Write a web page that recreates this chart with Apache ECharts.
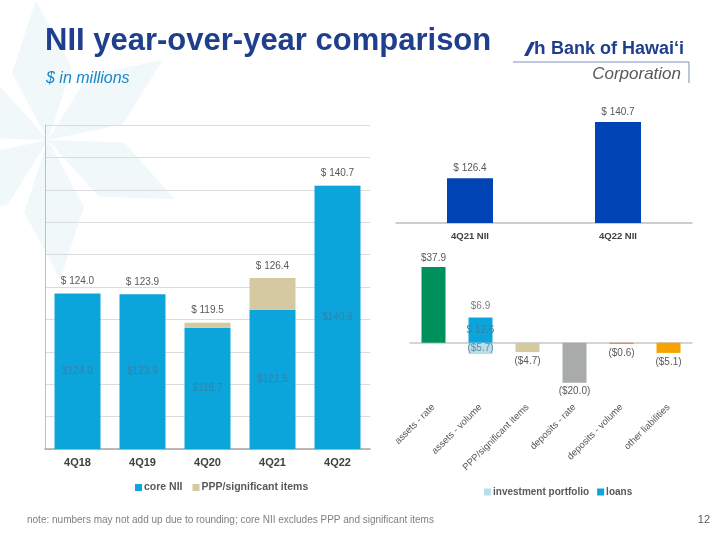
<!DOCTYPE html>
<html><head><meta charset="utf-8">
<script src="https://cdn.jsdelivr.net/npm/echarts@6/dist/echarts.min.js"></script>
<style>html,body{margin:0;padding:0;background:#fff}#c{width:720px;height:540px}</style>
</head><body><div id="c"></div>
<script>
// ---- data ----
const quarters = ['4Q18','4Q19','4Q20','4Q21','4Q22'];
const coreNII = [124.0,123.9,118.7,121.5,140.6];
const pppItems = [0,0,0.8,4.9,0.1];
const totalNII = [124.0,123.9,119.5,126.4,140.7];

const compareCats = ['4Q21 NII','4Q22 NII'];
const compareVals = [126.4,140.7];

const driverCats = ['assets - rate','assets - volume','PPP/significant items','deposits - rate','deposits - volume','other liabilities'];
const driverNet = [37.9,6.9,-4.7,-20.0,-0.6,-5.1];
const driverMain = [37.9,null,-4.7,-20.0,-0.6,-5.1];
const investmentPortfolio = [null,-5.7,null,null,null,null];
const loans = [null,12.6,null,null,null,null];
const driverColors = ['#00905c','#0ba5dc','#d5c9a1','#a9abab','#e8825c','#f6a300'];

// ---- styles ----
const FONT = '"Liberation Sans", Arial, sans-serif';
const GREY = '#595959';
const CYAN = '#0ba5dc';
const TAN = '#d5c9a1';
const fmtTotal = v => '$ ' + v.toFixed(1);
const fmtIn = v => '$' + v.toFixed(1);
const fmtSigned = v => v < 0 ? '($' + Math.abs(v).toFixed(1) + ')' : '$' + v.toFixed(1);

// background star (decoration)
const starCenter = [48, 140];
const starArms = [-95, -35, 25, 85, 145, 205].map(a => {
  const r = a * Math.PI / 180, L = 140, W = 30, m = 0.5;
  const dx = Math.cos(r), dy = Math.sin(r), px = -dy, py = dx;
  const [cx, cy] = starCenter;
  return {
    type: 'polygon', z: -10, silent: true,
    shape: { points: [
      [cx, cy],
      [cx + dx*L*m + px*W, cy + dy*L*m + py*W],
      [cx + dx*L, cy + dy*L],
      [cx + dx*L*m - px*W, cy + dy*L*m - py*W]
    ]},
    style: { fill: '#f1f8fa' }
  };
});

const chart = echarts.init(document.getElementById('c'));
chart.setOption({
  animation: false,
  backgroundColor: '#ffffff',
  textStyle: { fontFamily: FONT },
  graphic: starArms.concat([
    { type: 'text', x: 45, y: 41, style: { text: 'NII year-over-year comparison', font: 'bold 31px ' + FONT, fill: '#1f3f8e', verticalAlign: 'middle', textVerticalAlign: 'middle' } },
    { type: 'text', x: 46, y: 79, style: { text: '$ in millions', font: 'italic 16px ' + FONT, fill: '#1a86c8', verticalAlign: 'middle', textVerticalAlign: 'middle' } },
    // logo
    { type: 'polygon', shape: { points: [[524,56],[531,42],[535,42],[528,56]] }, style: { fill: '#1f3f8e' } },
    { type: 'text', x: 534, y: 49, style: { text: 'h', font: 'bold 19px ' + FONT, fill: '#1f3f8e', verticalAlign: 'middle', textVerticalAlign: 'middle' } },
    { type: 'text', x: 551, y: 49, style: { text: 'Bank of Hawaiʻi', font: 'bold 18px ' + FONT, fill: '#1f3f8e', verticalAlign: 'middle', textVerticalAlign: 'middle' } },
    { type: 'line', shape: { x1: 513, y1: 62, x2: 689, y2: 62 }, style: { stroke: '#7f8fba', lineWidth: 1 } },
    { type: 'line', shape: { x1: 689, y1: 62, x2: 689, y2: 83 }, style: { stroke: '#7f8fba', lineWidth: 1 } },
    { type: 'text', x: 681, y: 74, style: { text: 'Corporation', font: 'italic 17px "Liberation Sans Narrow", ' + FONT, fill: '#595959', align: 'right', textAlign: 'right', verticalAlign: 'middle', textVerticalAlign: 'middle' } },
    // footer
    { type: 'text', x: 27, y: 520, style: { text: 'note: numbers may not add up due to rounding; core NII excludes PPP and significant items', font: '10px ' + FONT, fill: '#808080', verticalAlign: 'middle', textVerticalAlign: 'middle' } },
    { type: 'text', x: 710, y: 520, style: { text: '12', font: '11px ' + FONT, fill: GREY, align: 'right', textAlign: 'right', verticalAlign: 'middle', textVerticalAlign: 'middle' } }
  ]),
  legend: [
    { data: ['core NII', 'PPP/significant items'], left: 130, top: 477, itemWidth: 7, itemHeight: 7, itemGap: 10,
      icon: 'rect', textStyle: { color: GREY, fontSize: 10.5, fontWeight: 'bold', padding: [0,0,0,-3] } },
    { data: ['investment portfolio', 'loans'], left: 479, top: 482, itemWidth: 7, itemHeight: 7, itemGap: 8,
      icon: 'rect', textStyle: { color: GREY, fontSize: 10, fontWeight: 'bold', padding: [0,0,0,-3] } }
  ],
  grid: [
    { left: 45, top: 125, width: 325, height: 324 },
    { left: 396, top: 105, width: 296, height: 118 },
    { left: 410, top: 262.7, width: 282, height: 140 }
  ],
  xAxis: [
    { gridIndex: 0, type: 'category', data: quarters,
      axisLine: { lineStyle: { color: '#a6a6a6', width: 1.5 } }, axisTick: { show: false },
      axisLabel: { color: '#404040', fontSize: 11, fontWeight: 'bold', margin: 8 } },
    { gridIndex: 1, type: 'category', data: compareCats,
      axisLine: { lineStyle: { color: '#bfbfbf', width: 1.5 } }, axisTick: { show: false },
      axisLabel: { color: '#404040', fontSize: 9.5, fontWeight: 'bold', margin: 8 } },
    { gridIndex: 2, type: 'category', data: driverCats,
      axisLine: { onZero: true, lineStyle: { color: '#c8c8c8', width: 1.5 } }, axisTick: { show: false },
      axisLabel: { show: false } },
    { gridIndex: 2, type: 'category', data: driverCats, position: 'bottom',
      axisLine: { show: false, onZero: false }, axisTick: { show: false },
      axisLabel: { color: GREY, fontSize: 9.5, rotate: 45, margin: 3, interval: 0 } }
  ],
  yAxis: [
    { gridIndex: 0, type: 'value', min: 100, max: 150, interval: 5,
      axisLine: { show: true, lineStyle: { color: '#bfbfbf' } }, axisTick: { show: false }, axisLabel: { show: false },
      splitLine: { lineStyle: { color: '#dcdcdc', width: 1.2 } } },
    { gridIndex: 1, type: 'value', min: 115, max: 145,
      axisLine: { show: false }, axisTick: { show: false }, axisLabel: { show: false }, splitLine: { show: false } },
    { gridIndex: 2, type: 'value', min: -30, max: 40,
      axisLine: { show: false }, axisTick: { show: false }, axisLabel: { show: false }, splitLine: { show: false } }
  ],
  series: [
    { name: 'core NII', type: 'bar', xAxisIndex: 0, yAxisIndex: 0, stack: 'nii', barWidth: 46,
      data: coreNII, itemStyle: { color: CYAN },
      label: { show: true, position: 'inside', color: '#3b7ea6', fontSize: 10, formatter: p => fmtIn(p.value) } },
    { name: 'PPP/significant items', type: 'bar', xAxisIndex: 0, yAxisIndex: 0, stack: 'nii', barWidth: 46,
      data: pppItems, itemStyle: { color: TAN },
      label: { show: true, position: 'top', distance: 7, color: GREY, fontSize: 10, formatter: p => fmtTotal(totalNII[p.dataIndex]) } },
    { name: 'NII', type: 'bar', xAxisIndex: 1, yAxisIndex: 1, barWidth: 46,
      data: compareVals, itemStyle: { color: '#0043b4' },
      label: { show: true, position: 'top', distance: 5, color: GREY, fontSize: 10, formatter: p => fmtTotal(p.value) } },
    { name: 'drivers', type: 'bar', xAxisIndex: 2, yAxisIndex: 2, stack: 'drv', barWidth: 24,
      data: driverMain.map((v, i) => v === null ? null : ({
        value: v, itemStyle: { color: driverColors[i] },
        label: { position: v >= 0 ? 'top' : 'bottom' }
      })),
      label: { show: true, distance: 4, color: GREY, fontSize: 10, formatter: p => fmtSigned(p.value) } },
    { name: 'investment portfolio', type: 'bar', xAxisIndex: 2, yAxisIndex: 2, stack: 'drv', barWidth: 24,
      data: investmentPortfolio, itemStyle: { color: '#b9dde9' },
      label: { show: true, position: 'inside', color: '#5f8ea3', fontSize: 10, formatter: p => fmtSigned(p.value) } },
    { name: 'loans', type: 'bar', xAxisIndex: 2, yAxisIndex: 2, stack: 'drv', barWidth: 24,
      data: loans, itemStyle: { color: CYAN },
      label: { show: true, position: 'inside', color: '#3b7ea6', fontSize: 10, formatter: p => '$ ' + p.value.toFixed(1) } },
    { name: 'net', type: 'scatter', xAxisIndex: 2, yAxisIndex: 2, symbolSize: 0, silent: true,
      data: driverNet.map((v, i) => loans[i] === null ? null : [i, loans[i]]),
      label: { show: true, position: 'top', distance: 6, color: GREY, fontSize: 10, formatter: p => fmtSigned(driverNet[p.dataIndex]) } }
  ]
});
</script>
</body></html>
